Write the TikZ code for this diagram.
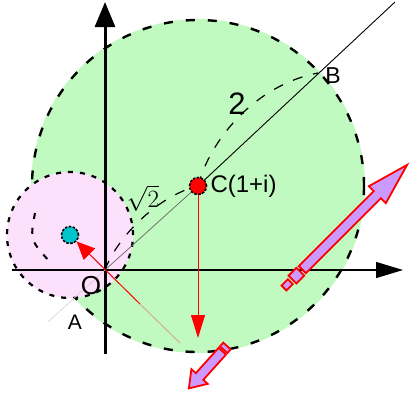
\documentclass[tikz,border=0pt]{standalone}
\usepackage{fontspec}
\setmainfont{Liberation Sans}
\usetikzlibrary{arrows.meta,positioning,calc}
\definecolor{cplxGreen}{RGB}{192,250,192}
\definecolor{cplxPink}{RGB}{252,224,252}
\definecolor{cplxCyan}{RGB}{0,196,204}
\definecolor{cplxLilac}{RGB}{204,153,255}
\definecolor{cplxTan}{RGB}{214,170,150}

\begin{document}
\begin{tikzpicture}[
      x=1pt, y=-1pt,
      rim/.style={draw=black, line width=2.4pt, dash pattern=on 9pt off 13pt},
      dimline/.style={black, line width=1.2pt, dash pattern=on 10pt off 11pt},
      dot/.style={circle, draw=black, line width=1.6pt, dash pattern=on 2.5pt off 1.5pt, minimum size=17pt, inner sep=0pt},
      lbl/.style={inner sep=0pt, font=\fontsize{24}{24}\selectfont},
      redarrow/.style={red, line width=1pt, -{Triangle[length=23pt,width=14pt]}},
      blockarrow/.style={draw=red, line width=1.8pt, fill=cplxLilac, line join=miter}
    ]
      \useasboundingbox (0,0) rectangle (417,394);
      % points of the plane
      \coordinate (O) at (105,270);
      \coordinate (C) at (198,186);
      \coordinate (B) at (318,73);
      \coordinate (P) at (70,235);
      \coordinate (lineA) at (48,322);
      \coordinate (lineEnd) at (395,2);
      \coordinate (xmin) at (12,270);
      \coordinate (xmax) at (403,270);
      \coordinate (ymin) at (105,354);
      \coordinate (ymax) at (105,2);
      \coordinate (footC) at (198,338);
      \coordinate (footP) at (180,343);
      \coordinate (redMid) at (140,304);
      \coordinate (arcTop) at (35,213);
      \coordinate (arcLow) at (50,262);
      \coordinate (bigTail) at (284,288);
      \coordinate (smallTail) at (227,346);
      % discs
      \fill[cplxGreen] (C) circle[radius=167pt];
      \draw[rim] (C) circle[radius=166pt];
      \fill[cplxPink] (P) circle[radius=63pt];
      \draw[rim, line width=2.2pt, dash pattern=on 5pt off 7pt] (P) circle[radius=63pt];
      \draw[rim, line width=2pt, dash pattern=on 6pt off 9pt] (arcTop) .. controls (30,240) .. (arcLow);
      % axes
      \draw[line width=1.3pt, -{Triangle[length=27pt,width=16pt]}] (xmin) -- (xmax);
      \draw[line width=3pt, -{Triangle[length=25pt,width=20pt]}] (ymin) -- (ymax);
      % line through O, C and B
      \draw[black!18, line width=0.6pt] (lineA) -- (O);
      \draw[black!60, line width=0.7pt] (O) -- (C);
      \draw[line width=0.9pt] (C) -- (lineEnd);
      % radii
      \draw[dimline] (O) .. controls (118,235) and (160,195) .. (C);
      \draw[dimline] (C) .. controls (210,140) and (255,85) .. (B);
      % dots
      \node[dot, fill=red] (cdot) at (C) {};
      \node[dot, fill=cplxCyan] (pdot) at (P) {};
      \draw[redarrow] (cdot) -- (footC);
      \draw[cplxTan, line width=1pt] (footP) -- (redMid);
      \draw[red, line width=1pt, -{Triangle[length=18pt,width=16pt]}] (redMid) -- (pdot);
      % labels
      \node[lbl, right=3pt of cdot] (clbl) {C(1+i)};
      \node[lbl, font=\fontsize{31}{31}\selectfont] (rlbl) at (237,104) {2};
      \node[lbl, font=\fontsize{23}{23}\selectfont] (blbl) at (333,76) {B};
      \node[lbl, font=\fontsize{26}{26}\selectfont] (olbl) at (91,286) {O};
      \node[lbl, font=\fontsize{21}{21}\selectfont] (albl) at (75,322) {A};
      \node[lbl, font=\fontsize{27}{27}\selectfont] (slbl) at (143,198) {$\sqrt{2}$};
      % block arrows
      \begin{scope}[shift={(bigTail)}, rotate=45]
        \draw[blockarrow] (0,-3.5) rectangle (9,3.5);
        \draw[blockarrow] (12,-5.5) rectangle (23,5.5);
        \draw[blockarrow] (26,-5) -- (132,-5) -- (132,-12) -- (174,0)
          -- (132,12) -- (132,5) -- (26,5) -- cycle;
      \end{scope}
      \begin{scope}[shift={(smallTail)}, rotate=228]
        \draw[blockarrow] (0,-5) rectangle (5,5);
        \draw[blockarrow] (7,-5) -- (41,-5) -- (41,-11) -- (57,0)
          -- (41,11) -- (41,5) -- (7,5) -- cycle;
      \end{scope}
    \end{tikzpicture}
\end{document}
